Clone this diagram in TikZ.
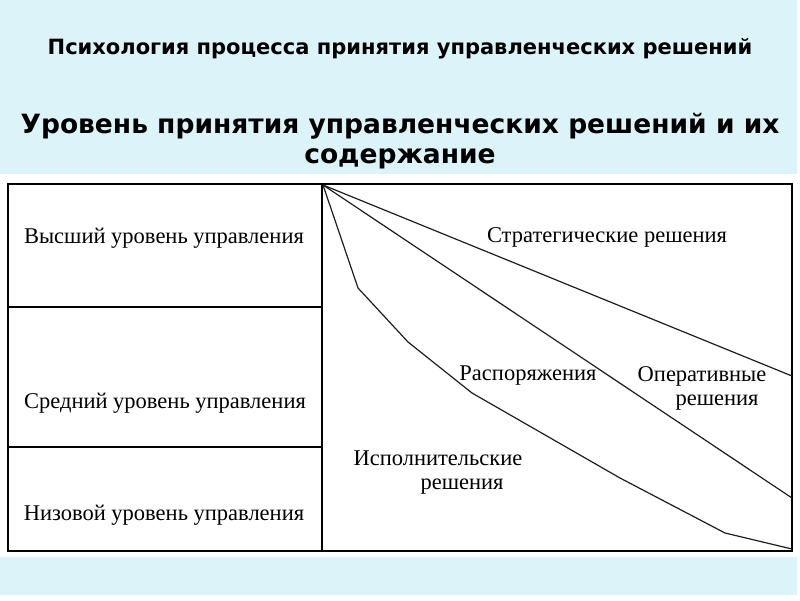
\documentclass[tikz,border=0pt]{standalone}
\usepackage{fontspec}
\setmainfont{Liberation Serif}
\newfontfamily\titlefont{DejaVu Sans}
\definecolor{bgcyan}{RGB}{220,243,249}
\definecolor{linegray}{RGB}{30,30,30}
\begin{document}
\begin{tikzpicture}[x=1pt,y=-1pt,
  cell/.style={inner sep=0pt,font=\fontsize{22.5}{26}\selectfont},
  ttl/.style={inner sep=0pt,font=\titlefont\bfseries\fontsize{21}{24}\selectfont},
  ttlbig/.style={inner sep=0pt,align=center,font=\titlefont\bfseries\fontsize{26.5}{30}\selectfont},
  frame/.style={line width=1.5pt,black},
  fan/.style={line width=1.2pt,linegray,line join=round}]
\useasboundingbox (0,0) rectangle (800,600);
\fill[white] (0,0) rectangle (800,600);
\fill[bgcyan] (0,0) rectangle (797,595);
\fill[white] (0,174) rectangle (800,557);
% titles
\node[ttl] (t1) at (400,49) {Психология процесса принятия управленческих решений};
\node[ttlbig] (t2) at (400,141) {Уровень принятия управленческих решений и их\\содержание};
% table
\draw[frame] (8,184) rectangle (792,551);
\draw[frame] (322,184) -- (322,551);
\draw[frame] (8,307) -- (322,307);
\draw[frame] (8,447) -- (322,447);
% level labels
\node[cell] (high) at (164,238) {Высший уровень управления};
\node[cell] (mid) at (165,403) {Средний уровень управления};
\node[cell] (low) at (164,515) {Низовой уровень управления};
% fan lines
\coordinate (apex) at (323,185);
\coordinate (s1) at (792,376);
\coordinate (s2) at (792,498);
\draw[fan] (apex) -- (s1);
\draw[fan] (apex) -- (s2);
\draw[fan] (apex) -- (358,288) -- (408,342) -- (472,393) -- (620,478) -- (725,533) -- (792,549);
% decision labels
\node[cell] (strat) at (607,237) {Стратегические решения};
\node[cell] (rasp) at (528,376) {Распоряжения};
\node[cell] (opera) at (702,376) {Оперативные};
\node[cell] (operb) at (717,403) {решения};
\node[cell] (ispa) at (438,458) {Исполнительские};
\node[cell] (ispb) at (462,487) {решения};
\end{tikzpicture}
\end{document}
